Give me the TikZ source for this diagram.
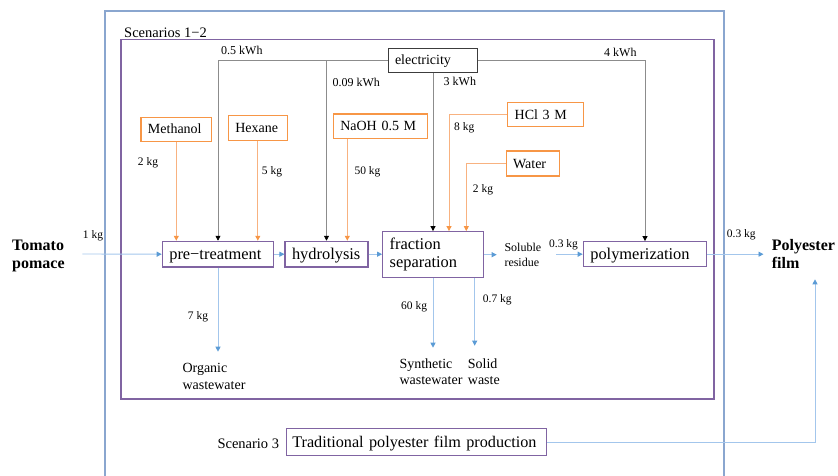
\documentclass[tikz,border=0pt]{standalone}
\usepackage{fontspec}
\setmainfont{Liberation Serif}
\usetikzlibrary{arrows.meta}

\definecolor{procpurple}{RGB}{128,100,162}
\definecolor{inorange}{RGB}{247,150,70}
\definecolor{inorangeline}{RGB}{248,178,128}
\definecolor{flowline}{RGB}{163,198,236}
\definecolor{flowhead}{RGB}{91,155,213}
\definecolor{frameblue}{RGB}{138,166,207}
\definecolor{powerline}{RGB}{140,140,140}
\definecolor{powerframe}{RGB}{60,60,60}

\tikzset{
  bigtxt/.style={font=\fontsize{16.4}{18.4}\selectfont},
  midtxt/.style={font=\fontsize{14}{16.8}\selectfont},
  kwhtxt/.style={font=\fontsize{12}{14}\selectfont},
  kgtxt/.style={font=\fontsize{11.5}{13}\selectfont},
  scentxt/.style={font=\fontsize{14.5}{17}\selectfont},
  endtxt/.style={font=\fontsize{16}{18.4}\selectfont\bfseries, align=left, inner sep=0pt, anchor=north west},
  outtxt/.style={font=\fontsize{14}{16.8}\selectfont, align=left, inner sep=0pt, anchor=north west},
  procbox/.style={draw=procpurple, line width=1.2pt, bigtxt, inner xsep=7pt, inner ysep=0pt, align=left},
  oneline/.style={text height=10.6pt, text depth=0.2pt},
  feedbox/.style={draw=inorange, line width=1.1pt, midtxt, inner xsep=7pt, inner ysep=0pt, align=left,
                  text height=9.5pt, text depth=0.2pt},
  powerbox/.style={draw=powerframe, line width=1pt, midtxt, inner xsep=7pt, inner ysep=0pt, align=left,
                   text height=9.5pt, text depth=0.2pt},
  qty/.style={kgtxt, inner sep=0pt, anchor=base west},
  energy/.style={kwhtxt, inner sep=0pt, anchor=base west},
  power/.style={draw=powerline, line width=0.8pt, -{Triangle[length=5pt,width=5pt,color=black]}},
  feed/.style={draw=inorangeline, line width=0.9pt, -{Triangle[length=5pt,width=5pt,color=inorange]}},
  flow/.style={draw=flowline, line width=0.9pt, -{Triangle[length=5pt,width=5pt,color=flowhead]}},
  frame/.style={draw=frameblue, line width=1.2pt}
}

\begin{document}
\begin{tikzpicture}[x=1pt,y=-1pt]
\useasboundingbox (0,0) rectangle (838,476);

% outer system boundary
\draw[frame] (105,482) -- (105,11) -- (724,11) -- (724,482);

% scenarios 1-2 boundary
\node[draw=procpurple, line width=1.2pt, minimum width=593pt, minimum height=359.7pt, inner sep=0pt]
  (scen12) at (417.5,219.2) {};
\node[scentxt, inner sep=0pt, anchor=base west] (scen12lbl) at (124,37.5) {Scenarios 1−2};

% electricity supply
\node[powerbox, text width=75pt, minimum height=24.3pt] (elec) at (432.5,60.2) {electricity};

% chemical inputs
\node[feedbox, text width=56.7pt, minimum height=24pt] (meth) at (176.3,129.3) {Methanol};
\node[feedbox, text width=45pt, minimum height=25pt] (hex) at (257.8,128.2) {Hexane};
\node[feedbox, text width=80.4pt, minimum height=24.5pt] (naoh) at (380.5,126.3) {NaOH 0.5 M};
\node[feedbox, text width=61.6pt, minimum height=24.3pt] (hcl) at (545.5,114.8) {HCl 3 M};
\node[feedbox, text width=39.3pt, minimum height=25pt] (water) at (532.7,163.5) {Water};

% process steps
\node[procbox, oneline, text width=97.4pt, minimum height=25.7pt] (pre) at (218,254.2) {pre−treatment};
\node[procbox, oneline, text width=69pt, minimum height=25.7pt] (hyd) at (326.5,254.2) {hydrolysis};
\node[procbox, text width=86.6pt, minimum height=46pt] (frac) at (433,254.7) {fraction\\separation};
\node[procbox, oneline, text width=109.4pt, minimum height=25pt] (poly) at (645,254.2) {polymerization};

% scenario 3
\node[scentxt, inner sep=0pt, anchor=base west] (scen3lbl) at (217.3,448.3) {Scenario 3};
\node[procbox, oneline, font=\fontsize{16.2}{18.4}\selectfont, inner xsep=6pt, text width=248pt, minimum height=26.6pt]
  (trad) at (416.3,442) {Traditional polyester film production};

% feedstock, product and outputs
\node[endtxt] (tomato) at (12,239.4) {Tomato\\pomace};
\node[endtxt] (film) at (771.7,239.2) {Polyester\\film};
\node[font=\fontsize{12}{14.7}\selectfont, align=left, inner sep=0pt, anchor=north west] (soluble) at (504.3,242.8) {Soluble\\residue};
\node[outtxt] (organic) at (182.3,362.8) {Organic\\wastewater};
\node[outtxt] (synth) at (399.3,358.1) {Synthetic\\wastewater};
\node[outtxt] (solid) at (467.7,358.1) {Solid\\waste};

% connector end points
\coordinate (tomatoout) at (82.3,254);
\coordinate (solublein) at (496.7,254.7);
\coordinate (solubleout) at (556,254.2);
\coordinate (filmin) at (763.5,254.2);
\coordinate (filmbelow) at (815,279.3);
\coordinate (organicin) at (218,351.7);
\coordinate (synthin) at (433,347.7);
\coordinate (solidcol) at (474.7,0);
\coordinate (solidin) at (474.7,345.7);
\coordinate (naohcol) at (347.3,0);
\coordinate (hclcol) at (449,0);
\coordinate (watercol) at (466.3,0);

% electricity distribution
\draw[power] (elec.west) -| (pre.north);
\draw[power] (elec.west -| hyd.north) -- (hyd.north);
\draw[power] (elec.south -| frac.north) -- (frac.north);
\draw[power] (elec.east) -| (poly.north);

% chemical feeds
\draw[feed] (meth.south) -- (meth.south |- pre.north);
\draw[feed] (hex.south) -- (hex.south |- pre.north);
\draw[feed] (naohcol |- naoh.south) -- (naohcol |- hyd.north);
\draw[feed] (hcl.west) -| (hclcol |- frac.north);
\draw[feed] (water.west) -| (watercol |- frac.north);

% main material flow
\draw[flow] (tomatoout) -- (pre.west);
\draw[flow] (pre.east) -- (hyd.west);
\draw[flow] (hyd.east) -- (hyd.east -| frac.west);
\draw[flow] (frac.east) -- (solublein);
\draw[flow] (solubleout) -- (poly.west);
\draw[flow] (poly.east) -- (filmin);
\draw[flow] (pre.south) -- (organicin);
\draw[flow] (frac.south) -- (synthin);
\draw[flow] (solidcol |- frac.south) -- (solidin);
\draw[flow] (trad.east) -| (filmbelow);

% energy labels
\node[energy] (e1) at (221,54.5) {0.5 kWh};
\node[energy] (e2) at (332.3,87) {0.09 kWh};
\node[energy] (e3) at (443.5,85.5) {3 kWh};
\node[energy] (e4) at (604,56.7) {4 kWh};

% mass labels
\node[qty] (q1) at (82.7,238.5) {1 kg};
\node[qty] (q2) at (137.7,165.3) {2 kg};
\node[qty] (q3) at (261.7,175) {5 kg};
\node[qty] (q4) at (354.3,175) {50 kg};
\node[qty] (q5) at (454,130.5) {8 kg};
\node[qty] (q6) at (472.7,192) {2 kg};
\node[qty] (q7) at (549,247.5) {0.3 kg};
\node[qty] (q8) at (726.7,237) {0.3 kg};
\node[qty] (q9) at (187.7,319.5) {7 kg};
\node[qty] (q10) at (401,309.5) {60 kg};
\node[qty] (q11) at (482.7,302.5) {0.7 kg};
\end{tikzpicture}
\end{document}
